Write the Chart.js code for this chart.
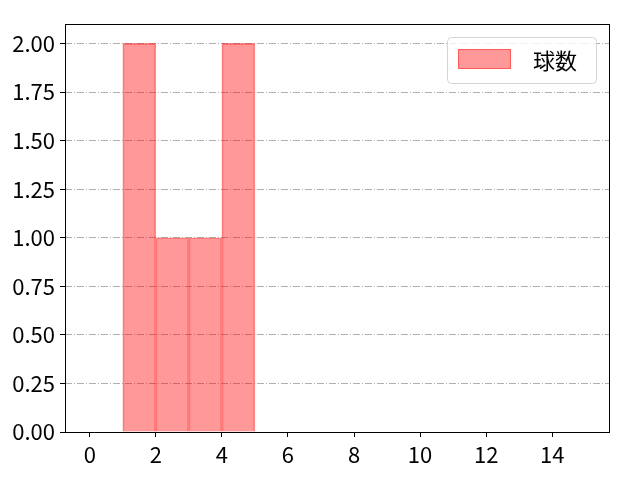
<!DOCTYPE html>
<html>
<head>
<meta charset="utf-8">
<script src="https://cdn.jsdelivr.net/npm/chart.js@4/dist/chart.umd.min.js"></script>
<style>
  html, body { margin: 0; padding: 0; background: #fff; }
  #wrap { width: 640px; height: 480px; }
</style>
</head>
<body>
<div id="wrap"><canvas id="chart" width="640" height="480"></canvas></div>
<script>
// histogram data
const binStarts = [1, 2, 3, 4];
const binEnds = [2, 3, 4, 5];
const counts = [2, 1, 1, 2];
const seriesLabel = '球数';
const xTicks = [0, 2, 4, 6, 8, 10, 12, 14];
const yTicks = [0, 0.25, 0.5, 0.75, 1, 1.25, 1.5, 1.75, 2];

const FONT = '"Noto Sans CJK JP", "Noto Sans", sans-serif';
const FONT_SIZE = 22;

const barData = binStarts.map((s, i) => ({ x: (s + binEnds[i]) / 2, y: counts[i] }));

// axes frame + legend box drawn like matplotlib
const framePlugin = {
    id: 'frame',
    afterDraw(chart) {
        const { ctx, chartArea: a } = chart;
        ctx.save();
        ctx.strokeStyle = '#000';
        ctx.lineWidth = 1;
        ctx.strokeRect(a.left + 0.5, a.top + 0.5, a.right - a.left - 1, a.bottom - a.top);

        // legend
        const ds = chart.data.datasets[0];
        const w = 149, h = 46;
        const lx = a.right - 14 - w, ly = a.top + 13;
        ctx.beginPath();
        ctx.roundRect(lx + 0.5, ly + 0.5, w, h, 4);
        ctx.fillStyle = 'rgba(255,255,255,0.8)';
        ctx.fill();
        ctx.strokeStyle = '#d4d4d4';
        ctx.stroke();

        ctx.fillStyle = ds.backgroundColor;
        ctx.fillRect(lx + 11, ly + 12, 53, 20);
        ctx.strokeStyle = ds.borderColor;
        ctx.strokeRect(lx + 11.5, ly + 12.5, 52, 19);

        ctx.fillStyle = '#000';
        ctx.font = FONT_SIZE + 'px ' + FONT;
        ctx.textBaseline = 'middle';
        ctx.textAlign = 'left';
        ctx.fillText(ds.label, lx + 86, ly + h / 2 + 1);
        ctx.restore();
    }
};

new Chart(document.getElementById('chart'), {
    type: 'bar',
    data: {
        datasets: [{
            label: seriesLabel,
            data: barData,
            backgroundColor: 'rgba(255, 0, 0, 0.4)',
            borderColor: 'rgba(255, 0, 0, 0.42)',
            borderWidth: 1,
            borderSkipped: 'bottom',
            barPercentage: 1,
            categoryPercentage: 1
        }]
    },
    options: {
        responsive: false,
        animation: false,
        devicePixelRatio: 1,
        layout: { padding: { top: 24, right: 30, left: 0, bottom: 0 } },
        plugins: {
            legend: { display: false },
            tooltip: { enabled: false }
        },
        scales: {
            x: {
                type: 'linear',
                offset: false,
                min: -0.75,
                max: 15.75,
                afterBuildTicks: (scale) => { scale.ticks = xTicks.map(v => ({ value: v })); },
                afterFit: (scale) => { scale.height = 48; },
                grid: {
                    offset: false,
                    drawOnChartArea: false,
                    color: '#000',
                    tickLength: 5,
                    tickWidth: 1
                },
                border: { display: false },
                ticks: {
                    color: '#000',
                    padding: 4,
                    maxRotation: 0,
                    autoSkip: false,
                    font: { family: FONT, size: FONT_SIZE },
                    callback: (v) => String(v)
                }
            },
            y: {
                min: 0,
                max: 2.1,
                afterBuildTicks: (scale) => { scale.ticks = yTicks.map(v => ({ value: v })); },
                afterFit: (scale) => { scale.width = 65; },
                grid: {
                    offset: false,
                    color: '#b0b0b0',
                    lineWidth: 1,
                    tickColor: '#000',
                    tickLength: 5,
                    tickBorderDash: []
                },
                border: { display: false, dash: [7, 2, 1, 2] },
                ticks: {
                    color: '#000',
                    padding: 5,
                    autoSkip: false,
                    font: { family: FONT, size: FONT_SIZE },
                    callback: (v) => Number(v).toFixed(2)
                }
            }
        }
    },
    plugins: [framePlugin]
});
</script>
</body>
</html>
